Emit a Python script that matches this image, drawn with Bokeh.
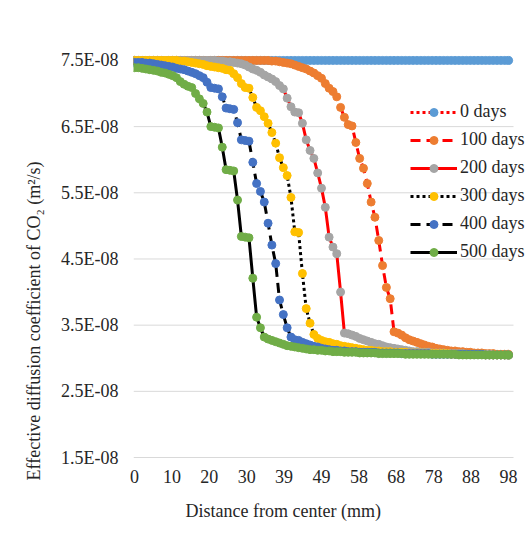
import math
from bokeh.plotting import figure
from bokeh.models import Legend, LegendItem, Title, FixedTicker
from bokeh.embed import file_html
from bokeh.resources import INLINE

# Distance from center (mm), 1 mm grid
distance = list(range(0, 99))

# Effective diffusion coefficient of CO2, in units of 1E-08 m2/s
d0 = [7.50] * 99

d100 = [
    7.50, 7.50, 7.50, 7.50, 7.50, 7.50, 7.50, 7.50, 7.50, 7.50,
    7.50, 7.50, 7.50, 7.50, 7.50, 7.50, 7.50, 7.50, 7.50, 7.50,
    7.50, 7.50, 7.50, 7.50, 7.50, 7.50, 7.50, 7.50, 7.50, 7.50,
    7.50, 7.50, 7.50, 7.50, 7.50, 7.50, 7.49, 7.49, 7.48, 7.47,
    7.46, 7.45, 7.43, 7.41, 7.39, 7.37, 7.34, 7.31, 7.27, 7.23,
    7.15, 7.08, 7.03, 6.95, 6.79, 6.64, 6.53, 6.51, 6.26, 6.02,
    5.87, 5.64, 5.36, 5.13, 4.78, 4.40, 4.07, 3.90, 3.40, 3.38,
    3.35, 3.31, 3.28, 3.26, 3.24, 3.22, 3.20, 3.18, 3.17, 3.15,
    3.14, 3.13, 3.12, 3.11, 3.11, 3.10, 3.10, 3.09, 3.09, 3.08,
    3.08, 3.08, 3.07, 3.07, 3.07, 3.06, 3.06, 3.06, 3.06]

d200 = [
    7.50, 7.50, 7.50, 7.50, 7.50, 7.50, 7.50, 7.50, 7.50, 7.50,
    7.50, 7.50, 7.50, 7.50, 7.50, 7.50, 7.50, 7.50, 7.50, 7.50,
    7.50, 7.50, 7.49, 7.49, 7.48, 7.48, 7.47, 7.46, 7.45, 7.43,
    7.40, 7.37, 7.35, 7.32, 7.28, 7.25, 7.22, 7.18, 7.12, 7.07,
    6.93, 6.80, 6.72, 6.71, 6.55, 6.30, 6.14, 6.02, 5.80, 5.57,
    5.28, 4.83, 4.68, 4.58, 4.00, 3.38, 3.37, 3.35, 3.33, 3.30,
    3.28, 3.26, 3.24, 3.22, 3.21, 3.19, 3.17, 3.16, 3.15, 3.14,
    3.13, 3.12, 3.11, 3.10, 3.10, 3.09, 3.09, 3.09, 3.08, 3.08,
    3.08, 3.08, 3.07, 3.07, 3.07, 3.07, 3.07, 3.06, 3.06, 3.06,
    3.06, 3.06, 3.06, 3.06, 3.05, 3.05, 3.05, 3.05, 3.05]

d300 = [
    7.50, 7.50, 7.50, 7.50, 7.50, 7.50, 7.50, 7.50, 7.50, 7.50,
    7.50, 7.50, 7.49, 7.49, 7.48, 7.47, 7.46, 7.45, 7.44, 7.42,
    7.41, 7.40, 7.39, 7.38, 7.36, 7.35, 7.30, 7.24, 7.15, 7.09,
    7.08, 6.94, 6.79, 6.74, 6.65, 6.55, 6.41, 6.25, 6.03, 5.88,
    5.76, 5.43, 4.91, 4.90, 4.28, 3.75, 3.53, 3.36, 3.30, 3.27,
    3.25, 3.24, 3.22, 3.21, 3.19, 3.18, 3.17, 3.16, 3.15, 3.14,
    3.13, 3.12, 3.12, 3.11, 3.11, 3.10, 3.10, 3.10, 3.09, 3.09,
    3.09, 3.09, 3.08, 3.08, 3.08, 3.08, 3.08, 3.07, 3.07, 3.07,
    3.07, 3.07, 3.07, 3.06, 3.06, 3.06, 3.06, 3.06, 3.06, 3.06,
    3.06, 3.06, 3.05, 3.05, 3.05, 3.05, 3.05, 3.05, 3.05]

d400 = [
    7.47, 7.47, 7.47, 7.46, 7.46, 7.45, 7.44, 7.43, 7.42, 7.41,
    7.40, 7.38, 7.37, 7.36, 7.34, 7.32, 7.30, 7.27, 7.24, 7.17,
    7.09, 7.08, 7.07, 6.95, 6.78, 6.77, 6.76, 6.56, 6.30, 6.29,
    6.28, 5.96, 5.64, 5.52, 5.36, 5.04, 4.71, 4.43, 3.88, 3.66,
    3.46, 3.32, 3.28, 3.27, 3.24, 3.22, 3.20, 3.18, 3.17, 3.15,
    3.14, 3.13, 3.12, 3.12, 3.11, 3.11, 3.10, 3.10, 3.10, 3.09,
    3.09, 3.09, 3.09, 3.09, 3.08, 3.08, 3.08, 3.08, 3.08, 3.08,
    3.07, 3.07, 3.07, 3.07, 3.07, 3.07, 3.07, 3.07, 3.06, 3.06,
    3.06, 3.06, 3.06, 3.06, 3.06, 3.06, 3.06, 3.06, 3.06, 3.06,
    3.06, 3.06, 3.05, 3.05, 3.05, 3.05, 3.05, 3.05, 3.05]

d500 = [
    7.39, 7.39, 7.38, 7.37, 7.36, 7.35, 7.34, 7.32, 7.31, 7.29,
    7.27, 7.24, 7.18, 7.14, 7.11, 7.09, 7.00, 6.92, 6.85, 6.72,
    6.50, 6.49, 6.48, 6.19, 5.85, 5.84, 5.83, 5.39, 4.84, 4.83,
    4.82, 4.21, 3.62, 3.46, 3.32, 3.29, 3.27, 3.25, 3.23, 3.21,
    3.19, 3.18, 3.17, 3.16, 3.15, 3.14, 3.13, 3.13, 3.12, 3.12,
    3.11, 3.11, 3.10, 3.10, 3.10, 3.09, 3.09, 3.09, 3.09, 3.08,
    3.08, 3.08, 3.08, 3.08, 3.07, 3.07, 3.07, 3.07, 3.07, 3.07,
    3.07, 3.06, 3.06, 3.06, 3.06, 3.06, 3.06, 3.06, 3.06, 3.06,
    3.06, 3.06, 3.06, 3.06, 3.06, 3.05, 3.05, 3.05, 3.05, 3.05,
    3.05, 3.05, 3.05, 3.05, 3.05, 3.05, 3.05, 3.05, 3.05]

series_names = ["0 days", "100 days", "200 days", "300 days", "400 days", "500 days"]
series_values = [d0, d100, d200, d300, d400, d500]

x_tick_labels = ["0", "10", "20", "30", "39", "49", "58", "68", "78", "88", "98"]
y_tick_values = [1.5, 2.5, 3.5, 4.5, 5.5, 6.5, 7.5]
y_tick_labels = ["1.5E-08", "2.5E-08", "3.5E-08", "4.5E-08", "5.5E-08", "6.5E-08", "7.5E-08"]

x_title = "Distance from center (mm)"
y_title = "Effective diffusion coefficient of CO\u2082 (m\u00b2/s)"

# styles
marker_colors = ["#5B9BD5", "#ED7D31", "#A5A5A5", "#FFC000", "#4472C4", "#70AD47"]
line_colors = ["#FF0000", "#FF0000", "#FF0000", "#000000", "#000000", "#000000"]
line_dashes = ["3 3", "10 6", "solid", "3 3", "10 6", "solid"]
FONT = "'Liberation Serif'"
FS = "18px"
TEXT_COLOR = "#262626"
X_LO, X_HI = -0.26, 103.24      # frame extends to the right edge (room for legend)
GRID_X0, GRID_X1 = -0.26, 99.31  # gridlines stop at the plot-area edge

p = figure(width=528, height=536, x_range=(X_LO, X_HI), y_range=(1.455, 7.65),
           output_backend="svg", toolbar_location=None,
           min_border_left=133, min_border_right=0, min_border_top=50, min_border_bottom=76)
p.outline_line_color = None
p.background_fill_color = "white"

x_ticks = [round(i * 9.8, 1) for i in range(len(x_tick_labels))]
p.xaxis.ticker = FixedTicker(ticks=x_ticks)
p.xaxis.major_label_overrides = {t: lab for t, lab in zip(x_ticks, x_tick_labels)}
p.yaxis.ticker = FixedTicker(ticks=y_tick_values)
p.yaxis.major_label_overrides = {t: lab for t, lab in zip(y_tick_values, y_tick_labels)}

for ax in (p.xaxis, p.yaxis):
    ax.axis_line_color = None
    ax.major_tick_line_color = None
    ax.minor_tick_line_color = None
    ax.major_tick_out = 0
    ax.major_tick_in = 0
    ax.major_label_text_font = FONT
    ax.major_label_text_font_size = FS
    ax.major_label_text_font_style = "normal"
    ax.major_label_text_color = TEXT_COLOR
p.xaxis.major_label_standoff = 9
p.yaxis.major_label_standoff = 15

p.xgrid.visible = False
p.ygrid.visible = False
p.segment(x0=[GRID_X0] * len(y_tick_values), x1=[GRID_X1] * len(y_tick_values),
          y0=y_tick_values, y1=y_tick_values, line_color="#D9D9D9", line_width=1)

items = []
for name, vals, mc, lc, ld in zip(series_names, series_values, marker_colors, line_colors, line_dashes):
    lr = p.line(distance, vals, line_color=lc, line_width=3, line_dash=ld)
    sr = p.scatter(distance, vals, size=8, fill_color=mc, line_color=mc, marker="circle")
    items.append(LegendItem(label=name, renderers=[lr, sr]))

legend = Legend(items=items, location=(277, 198), background_fill_alpha=0,
                border_line_color=None, padding=0, margin=0, spacing=7,
                label_height=20, glyph_height=20, glyph_width=47, label_standoff=3,
                label_text_font=FONT, label_text_font_size=FS,
                label_text_font_style="normal",
                label_text_color=TEXT_COLOR, label_text_baseline="middle")
p.add_layout(legend)

p.add_layout(Title(text=x_title, align="left", offset=52, standoff=27,
                   text_font=FONT, text_font_size=FS, text_font_style="normal",
                   text_color=TEXT_COLOR), "below")
p.add_layout(Title(text=y_title, align="left", offset=-20, standoff=30,
                   text_font=FONT, text_font_size=FS, text_font_style="normal",
                   text_color=TEXT_COLOR), "left")

open("out.html", "w").write(file_html(p, INLINE))
